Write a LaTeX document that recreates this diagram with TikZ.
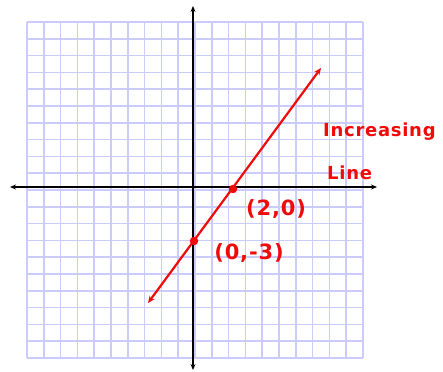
\documentclass[tikz,border=0pt]{standalone}
\usepackage{fontspec}
\usetikzlibrary{arrows.meta}
\newfontfamily\handfont[LetterSpace=4]{DejaVu Sans}
\definecolor{gridblue}{RGB}{204, 204, 252}
\definecolor{penred}{RGB}{240, 10, 10}
\tikzset{
    gridln/.style={draw=gridblue, line width=1.6pt},
    axisarr/.style={{Stealth[length=6pt,width=5pt]}-{Stealth[length=6pt,width=5pt]}, line width=2.2pt, black},
    redarr/.style={{Stealth[length=7pt,width=6pt]}-{Stealth[length=7pt,width=6pt]}, line width=2.2pt, penred},
    dotpt/.style={circle, fill=penred, inner sep=0pt, minimum size=8.5pt},
    handlbl/.style={font=\handfont\bfseries\fontsize{#1}{#1}\selectfont, text=penred, inner sep=0pt},
}

\begin{document}
\begin{tikzpicture}[x=1pt, y=1pt]

    \useasboundingbox (0,0) rectangle (443,371);

    \foreach \i in {0,...,20} {
        \draw[gridln] (27+16.8*\i, 13) -- (27+16.8*\i, 349);
        \draw[gridln] (27, 13+16.8*\i) -- (363, 13+16.8*\i);
    }

    \coordinate (xl) at (10,184);
    \coordinate (xr) at (377,184);
    \coordinate (yb) at (193,1);
    \coordinate (yt) at (193,365);
    \draw[axisarr] (xl) -- (xr);
    \draw[axisarr] (yb) -- (yt);

    \coordinate (lo) at (148,68);
    \coordinate (hi) at (321,303);
    \draw[redarr] (lo) -- (hi);

    \node[dotpt] (xint) at (233,182) {};
    \node[dotpt] (yint) at (194,130) {};

    \node[handlbl=21] (xlbl) at (276,162) {(2,0)};
    \node[handlbl=21] (ylbl) at (249,118) {(0,-3)};

    \node[handlbl=18, anchor=base west] (inc) at (323,234) {Increasing};
    \node[handlbl=18, anchor=base west] (ln) at (327,191) {Line};

\end{tikzpicture}
\end{document}
